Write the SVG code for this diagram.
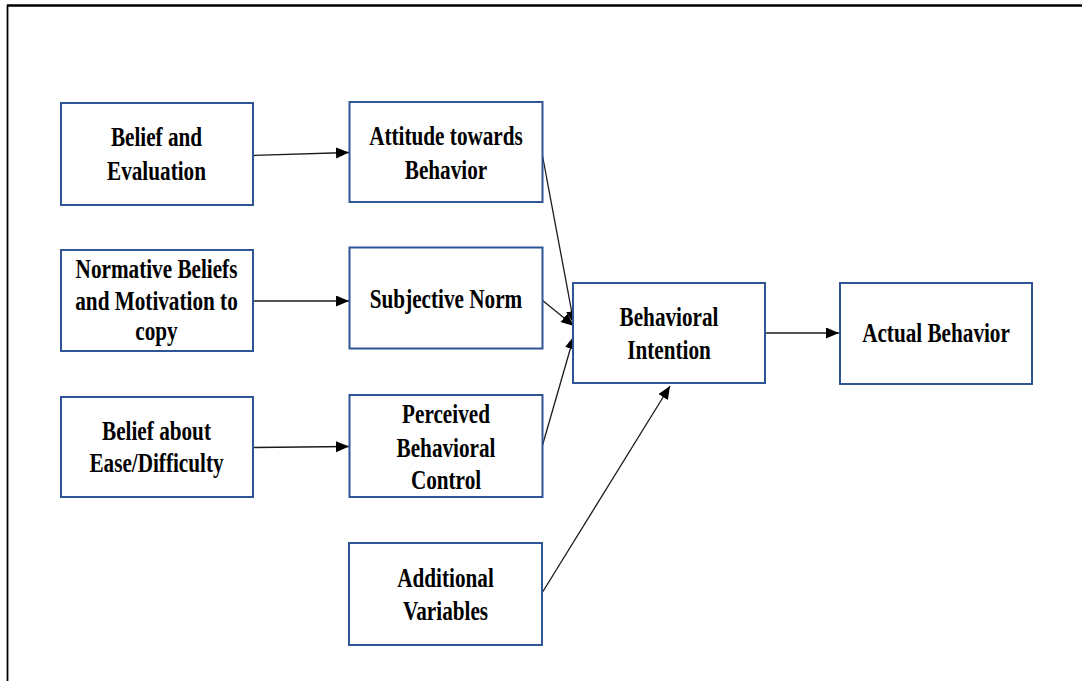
<svg xmlns="http://www.w3.org/2000/svg" width="1082" height="681" viewBox="0 0 1082 681">
  <defs>
    <style>
      .box { fill: #ffffff; stroke: #2F5597; stroke-width: 2; }
      .lbl { font-family: "Liberation Serif", "Times New Roman", serif; font-weight: bold; font-size: 26.5px; fill: #000000; text-anchor: middle; }
      .edge { fill: none; stroke: #1a1a1a; stroke-width: 1.3; marker-end: url(#head); }
      .frame { fill: none; stroke: #000000; }
    </style>
    <marker id="head" markerUnits="userSpaceOnUse" markerWidth="14" markerHeight="12" refX="13" refY="5.5" orient="auto">
      <path d="M0,0 L13,5.5 L0,11 z" fill="#000000"/>
    </marker>
  </defs>

  <rect width="1082" height="681" fill="#ffffff"/>

  <!-- page frame -->
  <line class="frame" x1="7" y1="5.5" x2="1082" y2="5.5" stroke-width="2.6"/>
  <line class="frame" x1="7.5" y1="5" x2="7.5" y2="681" stroke-width="1.8"/>

  <!-- connectors -->
  <g id="connectors">
    <line class="edge" x1="253" y1="155.5" x2="349" y2="152.5"/>
    <line class="edge" x1="253" y1="301" x2="349" y2="301"/>
    <line class="edge" x1="253" y1="447.5" x2="349" y2="446.5"/>
    <line class="edge" x1="542" y1="153" x2="574" y2="324"/>
    <line class="edge" x1="542" y1="300" x2="574" y2="326"/>
    <line class="edge" x1="542" y1="447" x2="574" y2="336"/>
    <line class="edge" x1="542" y1="593" x2="670" y2="386"/>
    <line class="edge" x1="765" y1="333" x2="839" y2="333"/>
  </g>

  <!-- nodes -->
  <g id="belief-evaluation">
    <rect class="box" x="61" y="103" width="192" height="102"/>
    <g transform="translate(156.5,0) scale(0.8,1)">
      <text class="lbl" x="0" y="146">Belief and</text>
      <text class="lbl" x="0" y="180">Evaluation</text>
    </g>
  </g>

  <g id="normative-beliefs">
    <rect class="box" x="61" y="250" width="192" height="101"/>
    <g transform="translate(156.5,0) scale(0.8,1)">
      <text class="lbl" x="0" y="278">Normative Beliefs</text>
      <text class="lbl" x="0" y="310">and Motivation to</text>
      <text class="lbl" x="0" y="340">copy</text>
    </g>
  </g>

  <g id="belief-ease">
    <rect class="box" x="61" y="397" width="192" height="100"/>
    <g transform="translate(156.5,0) scale(0.8,1)">
      <text class="lbl" x="0" y="440">Belief about</text>
      <text class="lbl" x="0" y="472">Ease/Difficulty</text>
    </g>
  </g>

  <g id="attitude">
    <rect class="box" x="349.5" y="102" width="193" height="100"/>
    <g transform="translate(446,0) scale(0.8,1)">
      <text class="lbl" x="0" y="145">Attitude towards</text>
      <text class="lbl" x="0" y="179">Behavior</text>
    </g>
  </g>

  <g id="subjective-norm">
    <rect class="box" x="349.5" y="247.5" width="193" height="101"/>
    <g transform="translate(446,0) scale(0.8,1)">
      <text class="lbl" x="0" y="308">Subjective Norm</text>
    </g>
  </g>

  <g id="perceived-control">
    <rect class="box" x="349.5" y="395" width="193" height="102"/>
    <g transform="translate(446,0) scale(0.8,1)">
      <text class="lbl" x="0" y="423">Perceived</text>
      <text class="lbl" x="0" y="457">Behavioral</text>
      <text class="lbl" x="0" y="489">Control</text>
    </g>
  </g>

  <g id="additional-variables">
    <rect class="box" x="349" y="543" width="193" height="102"/>
    <g transform="translate(445.5,0) scale(0.8,1)">
      <text class="lbl" x="0" y="587">Additional</text>
      <text class="lbl" x="0" y="620">Variables</text>
    </g>
  </g>

  <g id="behavioral-intention">
    <rect class="box" x="573" y="283" width="192" height="100"/>
    <g transform="translate(669,0) scale(0.8,1)">
      <text class="lbl" x="0" y="326">Behavioral</text>
      <text class="lbl" x="0" y="359">Intention</text>
    </g>
  </g>

  <g id="actual-behavior">
    <rect class="box" x="840" y="283" width="192" height="101"/>
    <g transform="translate(936,0) scale(0.8,1)">
      <text class="lbl" x="0" y="342">Actual Behavior</text>
    </g>
  </g>
</svg>
